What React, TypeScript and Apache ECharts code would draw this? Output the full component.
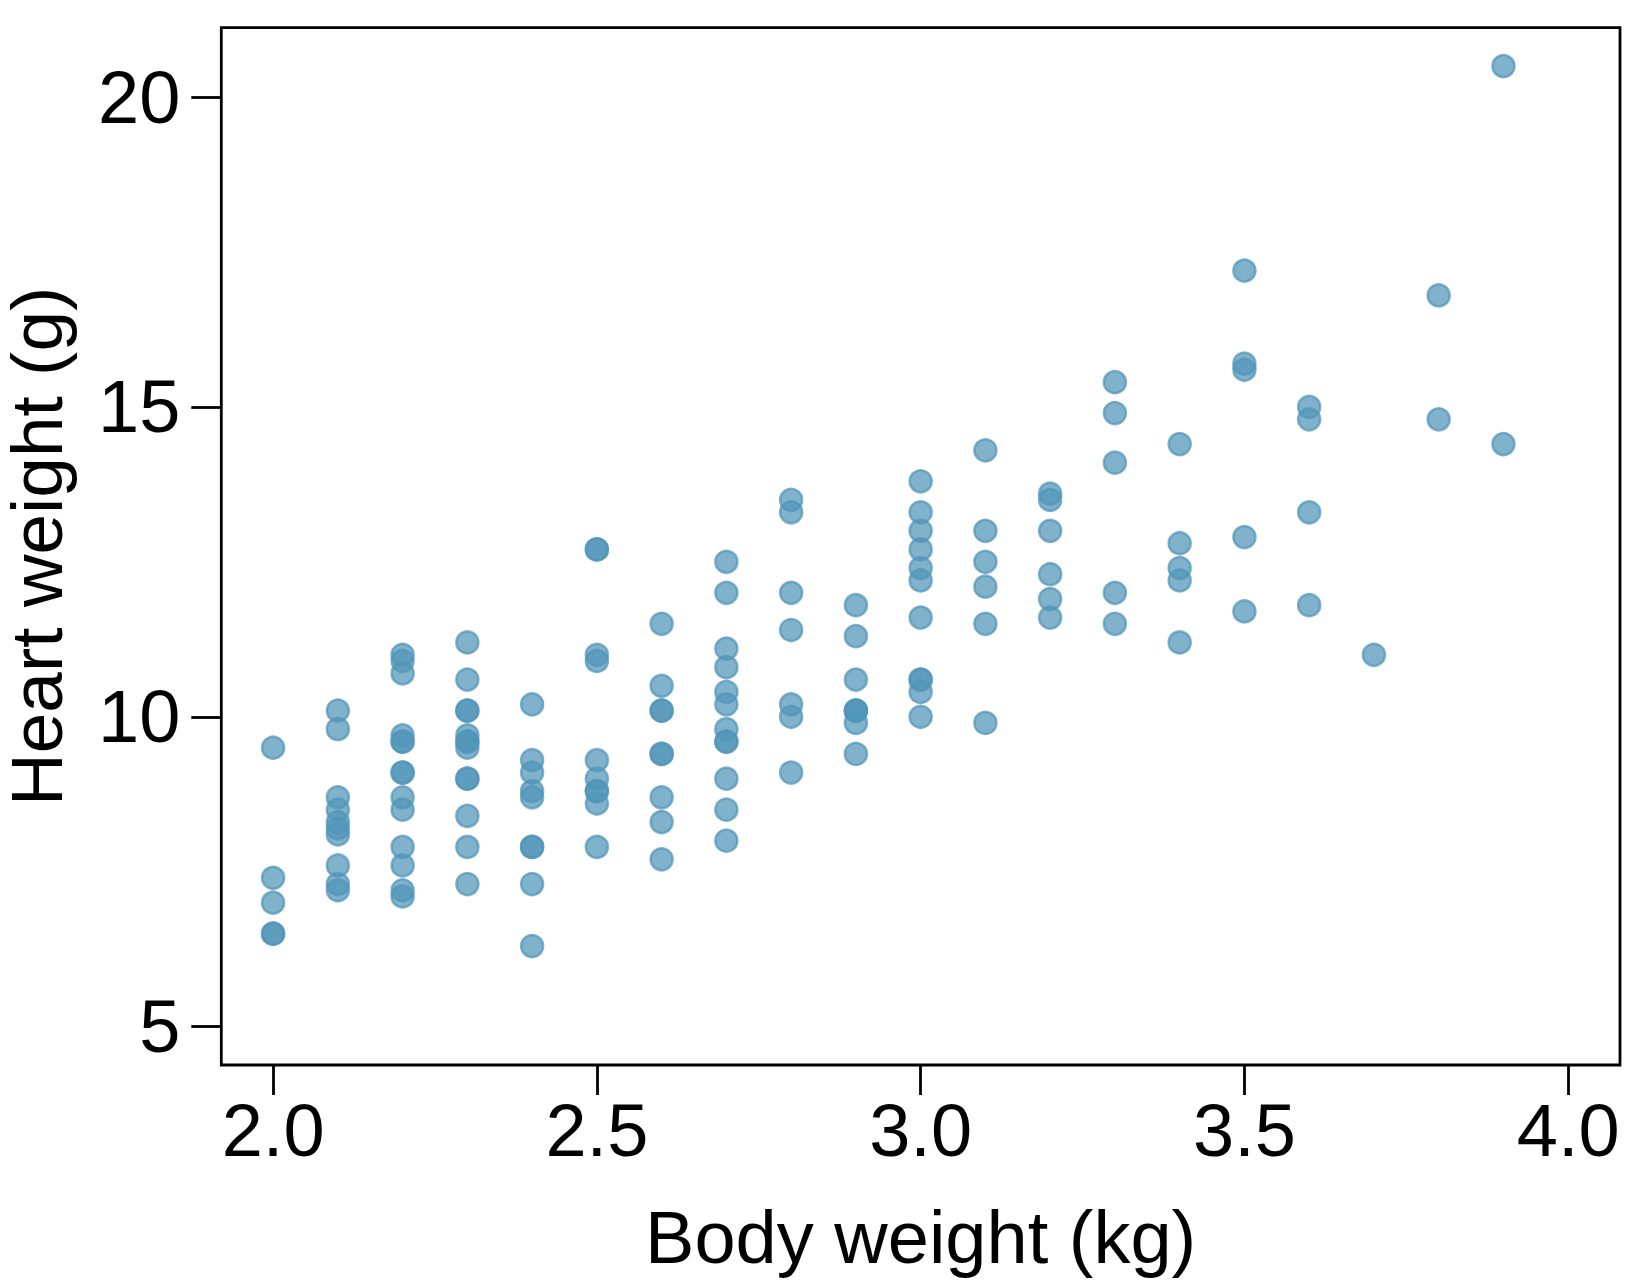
import React, { useEffect, useRef } from "react";
import * as echarts from "echarts";

// Body weight (kg) and heart weight (g) for 144 adult cats
const bodyWeight: number[] = [
  2.0, 2.0, 2.0, 2.1, 2.1, 2.1, 2.1, 2.1, 2.1, 2.1, 2.1, 2.1,
  2.2, 2.2, 2.2, 2.2, 2.2, 2.2,
  2.3, 2.3, 2.3, 2.3, 2.3, 2.3, 2.3, 2.3, 2.3, 2.3, 2.3, 2.3,
  2.4, 2.4, 2.4, 2.4, 2.5, 2.5, 2.6, 2.6, 2.6, 2.7, 2.7, 2.7,
  2.9, 2.9, 2.9, 3.0, 3.0,
  2.0, 2.0, 2.1,
  2.2, 2.2, 2.2, 2.2, 2.2, 2.2, 2.2, 2.2,
  2.3,
  2.4, 2.4, 2.4, 2.4, 2.4,
  2.5, 2.5, 2.5, 2.5, 2.5, 2.5, 2.5, 2.5,
  2.6, 2.6, 2.6, 2.6, 2.6, 2.6,
  2.7, 2.7, 2.7, 2.7, 2.7, 2.7, 2.7, 2.7, 2.7,
  2.8, 2.8, 2.8, 2.8, 2.8, 2.8, 2.8,
  2.9, 2.9, 2.9, 2.9, 2.9,
  3.0, 3.0, 3.0, 3.0, 3.0, 3.0, 3.0, 3.0, 3.0,
  3.1, 3.1, 3.1, 3.1, 3.1, 3.1,
  3.2, 3.2, 3.2, 3.2, 3.2, 3.2,
  3.3, 3.3, 3.3, 3.3, 3.3,
  3.4, 3.4, 3.4, 3.4, 3.4,
  3.5, 3.5, 3.5, 3.5, 3.5,
  3.6, 3.6, 3.6, 3.6,
  3.7,
  3.8, 3.8,
  3.9, 3.9,
];

const heartWeight: number[] = [
  7.0, 7.4, 9.5, 7.2, 7.3, 7.6, 8.1, 8.2, 8.3, 8.5, 8.7, 9.8,
  7.1, 8.7, 9.1, 9.7, 10.9, 11.0,
  7.3, 7.9, 8.4, 9.0, 9.0, 9.5, 9.6, 9.7, 10.1, 10.1, 10.6, 11.2,
  6.3, 8.7, 8.8, 10.2, 9.0, 10.9, 8.7, 10.1, 10.1, 8.5, 10.2, 10.8,
  9.9, 10.1, 10.1, 10.6, 13.0,
  6.5, 6.5, 10.1,
  7.2, 7.6, 7.9, 8.5, 9.1, 9.6, 9.6, 10.7,
  9.6,
  7.3, 7.9, 7.9, 9.1, 9.3,
  7.9, 8.6, 8.8, 8.8, 9.3, 11.0, 12.7, 12.7,
  7.7, 8.3, 9.4, 9.4, 10.5, 11.5,
  8.0, 9.0, 9.6, 9.6, 9.8, 10.4, 11.1, 12.0, 12.5,
  9.1, 10.0, 10.2, 11.4, 12.0, 13.3, 13.5,
  9.4, 10.1, 10.6, 11.3, 11.8,
  10.0, 10.4, 10.6, 11.6, 12.2, 12.4, 12.7, 13.3, 13.8,
  9.9, 11.5, 12.1, 12.5, 13.0, 14.3,
  11.6, 11.9, 12.3, 13.0, 13.5, 13.6,
  11.5, 12.0, 14.1, 14.9, 15.4,
  11.2, 12.2, 12.4, 12.8, 14.4,
  11.7, 12.9, 15.6, 15.7, 17.2,
  11.8, 13.3, 14.8, 15.0,
  11.0,
  14.8, 16.8,
  14.4, 20.5,
];

const xTicks: number[] = [2.0, 2.5, 3.0, 3.5, 4.0];
const yTicks: number[] = [5, 10, 15, 20];

const xTitle = "Body weight (kg)";
const yTitle = "Heart weight (g)";

const FONT = '"Liberation Sans", Arial, Helvetica, sans-serif';
const DOT = "rgba(81,150,185,0.73)";

export default function App() {
  const ref = useRef<HTMLDivElement>(null);

  useEffect(() => {
    if (!ref.current) return;
    const chart = echarts.init(ref.current, null, { renderer: "svg" });
    const points = bodyWeight.map((b, i) => [b, heartWeight[i]]);

    chart.setOption({
      animation: false,
      backgroundColor: "#ffffff",
      textStyle: { fontFamily: FONT, color: "#000" },
      grid: {
        left: 221.3,
        right: 30,
        top: 27.7,
        bottom: 223,
        show: true,
        borderColor: "#000",
        borderWidth: 2.8,
        backgroundColor: "transparent",
        containLabel: false,
        outerBoundsMode: "none",
      },
      xAxis: {
        type: "value",
        min: 1.92,
        max: 4.08,
        name: xTitle,
        nameLocation: "middle",
        nameGap: 135,
        nameTextStyle: { fontFamily: FONT, fontSize: 74, color: "#000" },
        axisLine: { show: false },
        splitLine: { show: false },
        axisTick: {
          show: true,
          length: 30,
          inside: false,
          customValues: xTicks,
          lineStyle: { color: "#000", width: 2.8 },
        },
        axisLabel: {
          customValues: xTicks,
          margin: 28,
          fontFamily: FONT,
          fontSize: 74,
          color: "#000",
          formatter: (v: number) => v.toFixed(1),
        },
      },
      yAxis: {
        type: "value",
        min: 4.38,
        max: 21.12,
        name: yTitle,
        nameLocation: "middle",
        nameRotate: 90,
        nameGap: 152,
        nameTextStyle: { fontFamily: FONT, fontSize: 73, lineHeight: 66, color: "#000" },
        axisLine: { show: false },
        splitLine: { show: false },
        axisTick: {
          show: true,
          length: 30,
          inside: false,
          customValues: yTicks,
          lineStyle: { color: "#000", width: 2.8 },
        },
        axisLabel: {
          customValues: yTicks,
          margin: 41,
          fontFamily: FONT,
          fontSize: 74,
          color: "#000",
          formatter: (v: number) => String(v),
        },
      },
      series: [
        {
          type: "scatter",
          data: points,
          symbol: "circle",
          symbolSize: 22,
          itemStyle: {
            color: DOT,
            borderColor: DOT,
            borderWidth: 2.5,
            opacity: 1,
          },
          emphasis: { disabled: true },
        },
      ],
    });

    return () => chart.dispose();
  }, []);

  return (
    <div
      ref={ref}
      style={{ position: "fixed", left: 0, top: 0, width: 1650, height: 1288, background: "#fff" }}
    />
  );
}
